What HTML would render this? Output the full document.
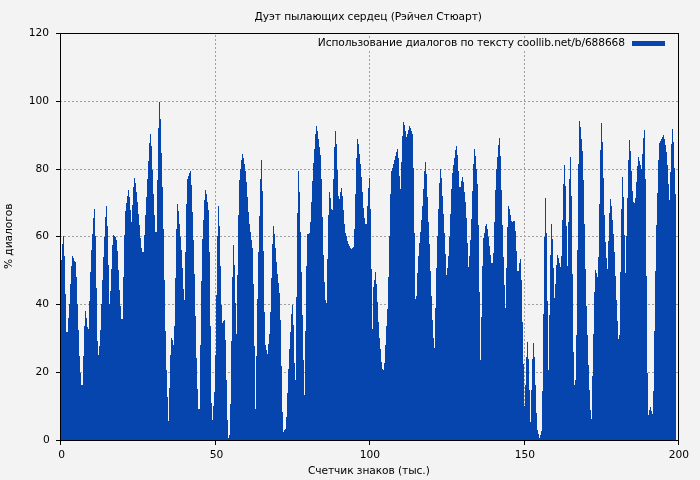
<!DOCTYPE html>
<html lang="ru"><head><meta charset="utf-8"><title>Дуэт пылающих сердец (Рэйчел Стюарт)</title>
<style>html,body{margin:0;padding:0;background:#f3f3f3;overflow:hidden}svg{display:block}text{font-family:"DejaVu Sans","Liberation Sans",sans-serif;font-size:10.67px;fill:#000}</style></head><body>
<svg width="700" height="480" viewBox="0 0 700 480">
<rect width="700" height="480" fill="#f3f3f3"/>
<g stroke="#a0a0a0" stroke-width="1" stroke-dasharray="2 2" shape-rendering="crispEdges" fill="none">
<path d="M60 372.5 H678"/>
<path d="M60 304.5 H678"/>
<path d="M60 236.5 H678"/>
<path d="M60 169.5 H678"/>
<path d="M60 101.5 H678"/>
<path d="M215.5 441 V34"/>
<path d="M369.5 441 V51"/>
<path d="M369.5 38 V36"/>
<path d="M524.5 441 V51"/>
<path d="M524.5 38 V36"/>
</g>
<path fill="#0645ad" shape-rendering="crispEdges" d="M61 440H62V260H61ZM62 440H63V244H62ZM63 440H64V236H63ZM64 440H65V256H64ZM65 440H66V294H65ZM66 440H68V332H66ZM68 440H69V318H68ZM69 440H70V304H69ZM70 440H71V284H70ZM71 440H72V266H71ZM72 440H73V256H72ZM73 440H74V258H73ZM74 440H75V261H74ZM75 440H76V262H75ZM76 440H77V277H76ZM77 440H78V304H77ZM78 440H79V330H78ZM79 440H80V356H79ZM80 440H81V373H80ZM81 440H83V385H81ZM83 440H84V356H83ZM84 440H85V326H84ZM85 440H86V311H85ZM86 440H87V318H86ZM87 440H88V327H87ZM88 440H89V329H88ZM89 440H90V301H89ZM90 440H91V272H90ZM91 440H92V250H91ZM92 440H93V234H92ZM93 440H94V218H93ZM94 440H95V209H94ZM95 440H96V236H95ZM96 440H97V288H96ZM97 440H98V341H97ZM98 440H99V355H98ZM99 440H100V346H99ZM100 440H101V330H100ZM101 440H102V304H101ZM102 440H103V280H102ZM103 440H104V257H103ZM104 440H105V237H104ZM105 440H106V217H105ZM106 440H107V206H106ZM107 440H108V226H107ZM108 440H109V265H108ZM109 440H110V304H109ZM110 440H111V291H110ZM111 440H112V269H111ZM112 440H113V245H112ZM113 440H114V235H113ZM114 440H115V236H114ZM115 440H116V237H115ZM116 440H117V240H116ZM117 440H118V251H117ZM118 440H119V270H118ZM119 440H120V290H119ZM120 440H121V306H120ZM121 440H123V319H121ZM123 440H124V277H123ZM124 440H125V235H124ZM125 440H126V211H125ZM126 440H127V203H126ZM127 440H128V196H127ZM128 440H129V190H128ZM129 440H130V197H129ZM130 440H131V210H130ZM131 440H132V222H131ZM132 440H133V205H132ZM133 440H134V187H133ZM134 440H135V178H134ZM135 440H136V183H135ZM136 440H137V192H136ZM137 440H138V202H137ZM138 440H139V214H138ZM139 440H140V225H139ZM140 440H141V238H140ZM141 440H142V248H141ZM142 440H144V252H142ZM144 440H145V235H144ZM145 440H146V215H145ZM146 440H147V197H146ZM147 440H148V179H147ZM148 440H149V161H148ZM149 440H150V143H149ZM150 440H151V134H150ZM151 440H152V146H151ZM152 440H153V170H152ZM153 440H154V194H153ZM154 440H155V215H154ZM155 440H157V232H155ZM157 440H158V180H157ZM158 440H159V128H158ZM159 440H160V102H159ZM160 440H161V119H160ZM161 440H162V153H161ZM162 440H163V187H162ZM163 440H164V229H163ZM164 440H165V280H164ZM165 440H166V331H165ZM166 440H167V370H166ZM167 440H168V397H167ZM168 440H169V421H168ZM169 440H170V388H169ZM170 440H171V355H170ZM171 440H172V338H171ZM172 440H173V340H172ZM173 440H174V345H173ZM174 440H175V326H174ZM175 440H176V278H175ZM176 440H177V229H176ZM177 440H178V204H177ZM178 440H179V211H178ZM179 440H180V224H179ZM180 440H181V237H180ZM181 440H182V250H181ZM182 440H183V268H182ZM183 440H184V289H183ZM184 440H185V300H184ZM185 440H186V252H185ZM186 440H187V204H186ZM187 440H188V179H187ZM188 440H189V176H188ZM189 440H190V173H189ZM190 440H191V171H190ZM191 440H192V185H191ZM192 440H193V212H192ZM193 440H194V240H193ZM194 440H195V274H194ZM195 440H196V316H195ZM196 440H197V358H196ZM197 440H198V389H197ZM198 440H200V409H198ZM200 440H201V345H200ZM201 440H202V281H201ZM202 440H203V239H202ZM203 440H204V220H203ZM204 440H205V200H204ZM205 440H206V190H205ZM206 440H207V194H206ZM207 440H208V202H207ZM208 440H209V210H208ZM209 440H210V252H209ZM210 440H211V326H210ZM211 440H212V403H211ZM212 440H213V420H212ZM213 440H214V406H213ZM214 440H215V392H214ZM215 440H216V355H215ZM216 440H217V295H216ZM217 440H218V236H217ZM218 440H219V206H218ZM219 440H220V226H219ZM220 440H221V266H220ZM221 440H222V305H221ZM222 440H223V323H222ZM223 440H224V321H223ZM224 440H225V320H224ZM225 440H226V340H225ZM226 440H227V380H226ZM227 440H228V420H227ZM228 440H229V438H228ZM229 440H230V435H229ZM230 440H231V404H230ZM231 440H232V341H231ZM232 440H233V277H232ZM233 440H234V245H233ZM234 440H235V265H234ZM235 440H236V303H235ZM236 440H237V334H236ZM237 440H238V275H237ZM238 440H239V215H238ZM239 440H240V180H239ZM240 440H241V169H240ZM241 440H242V160H241ZM242 440H243V154H242ZM243 440H244V158H243ZM244 440H245V164H244ZM245 440H246V171H245ZM246 440H247V182H246ZM247 440H248V197H247ZM248 440H249V212H248ZM249 440H250V224H249ZM250 440H251V232H250ZM251 440H252V240H251ZM252 440H253V248H252ZM253 440H254V284H253ZM254 440H255V346H254ZM255 440H256V409H255ZM256 440H257V356H256ZM257 440H258V299H257ZM258 440H259V252H258ZM259 440H260V216H259ZM260 440H261V179H260ZM261 440H262V160H261ZM262 440H263V191H262ZM263 440H264V251H263ZM264 440H265V312H264ZM265 440H266V345H265ZM266 440H267V350H266ZM267 440H268V354H267ZM268 440H269V344H268ZM269 440H270V334H269ZM270 440H271V312H270ZM271 440H272V278H271ZM272 440H273V244H272ZM273 440H274V226H273ZM274 440H275V234H274ZM275 440H276V248H275ZM276 440H277V262H276ZM277 440H278V274H277ZM278 440H279V283H278ZM279 440H280V293H279ZM280 440H281V320H280ZM281 440H282V366H281ZM282 440H283V412H282ZM283 440H284V432H283ZM284 440H285V430H284ZM285 440H286V429H285ZM286 440H287V417H286ZM287 440H288V393H287ZM288 440H289V369H288ZM289 440H290V349H289ZM290 440H291V332H290ZM291 440H292V314H291ZM292 440H293V305H292ZM293 440H294V325H293ZM294 440H295V363H294ZM295 440H296V380H295ZM296 440H297V297H296ZM297 440H298V213H297ZM298 440H299V171H298ZM299 440H300V192H299ZM300 440H301V232H300ZM301 440H302V272H301ZM302 440H303V315H302ZM303 440H304V360H303ZM304 440H305V395H304ZM305 440H306V331H305ZM306 440H307V266H306ZM307 440H309V234H307ZM309 440H310V233H309ZM310 440H311V222H310ZM311 440H312V202H311ZM312 440H313V181H312ZM313 440H314V163H313ZM314 440H315V149H314ZM315 440H316V134H315ZM316 440H317V126H316ZM317 440H318V131H317ZM318 440H319V139H318ZM319 440H320V147H319ZM320 440H321V155H320ZM321 440H322V179H321ZM322 440H323V217H322ZM323 440H324V255H323ZM324 440H325V282H324ZM325 440H326V300H325ZM326 440H327V303H326ZM327 440H328V259H327ZM328 440H329V215H328ZM329 440H330V192H329ZM330 440H331V198H330ZM331 440H332V209H331ZM332 440H333V210H332ZM333 440H334V179H333ZM334 440H335V147H334ZM335 440H336V131H335ZM336 440H337V144H336ZM337 440H338V170H337ZM338 440H339V196H338ZM339 440H340V199H339ZM340 440H341V192H340ZM341 440H342V188H341ZM342 440H343V196H342ZM343 440H344V210H343ZM344 440H345V224H344ZM345 440H346V233H345ZM346 440H347V236H346ZM347 440H348V241H347ZM348 440H349V244H348ZM349 440H350V246H349ZM350 440H351V248H350ZM351 440H352V249H351ZM352 440H353V248H352ZM353 440H354V247H353ZM354 440H355V229H354ZM355 440H356V194H355ZM356 440H357V158H356ZM357 440H358V139H357ZM358 440H359V144H358ZM359 440H360V154H359ZM360 440H361V164H360ZM361 440H362V177H361ZM362 440H363V192H362ZM363 440H364V208H363ZM364 440H365V218H364ZM365 440H367V224H365ZM367 440H368V206H367ZM368 440H369V188H368ZM369 440H370V178H369ZM370 440H371V209H370ZM371 440H372V269H371ZM372 440H373V329H372ZM373 440H374V287H373ZM374 440H375V280H374ZM375 440H376V272H375ZM376 440H377V284H376ZM377 440H378V302H377ZM378 440H379V322H378ZM379 440H380V338H379ZM380 440H381V349H380ZM381 440H382V362H381ZM382 440H383V369H382ZM383 440H384V370H383ZM384 440H385V363H384ZM385 440H386V345H385ZM386 440H387V326H386ZM387 440H388V309H387ZM388 440H389V277H388ZM389 440H390V236H389ZM390 440H391V194H390ZM391 440H392V171H391ZM392 440H393V168H392ZM393 440H394V164H393ZM394 440H395V160H394ZM395 440H396V156H395ZM396 440H397V152H396ZM397 440H398V149H397ZM398 440H399V158H398ZM399 440H400V176H399ZM400 440H401V189H400ZM401 440H402V162H401ZM402 440H403V136H402ZM403 440H404V122H403ZM404 440H405V125H404ZM405 440H406V131H405ZM406 440H407V137H406ZM407 440H408V134H407ZM408 440H409V130H408ZM409 440H410V126H409ZM410 440H411V128H410ZM411 440H412V131H411ZM412 440H413V134H412ZM413 440H414V168H413ZM414 440H415V233H414ZM415 440H416V299H415ZM416 440H417V296H416ZM417 440H418V273H417ZM418 440H419V256H418ZM419 440H420V243H419ZM420 440H421V232H420ZM421 440H422V220H421ZM422 440H423V206H422ZM423 440H424V189H423ZM424 440H425V171H424ZM425 440H426V162H425ZM426 440H427V174H426ZM427 440H428V197H427ZM428 440H429V222H428ZM429 440H430V244H429ZM430 440H431V271H430ZM431 440H432V296H431ZM432 440H433V320H432ZM433 440H434V338H433ZM434 440H435V348H434ZM435 440H436V308H435ZM436 440H437V268H436ZM437 440H438V236H437ZM438 440H439V209H438ZM439 440H440V183H439ZM440 440H441V169H440ZM441 440H442V178H441ZM442 440H443V196H442ZM443 440H444V214H443ZM444 440H445V233H444ZM445 440H446V254H445ZM446 440H447V275H446ZM447 440H448V268H447ZM448 440H449V256H448ZM449 440H450V237H449ZM450 440H451V214H450ZM451 440H452V189H451ZM452 440H453V173H452ZM453 440H454V165H453ZM454 440H455V158H454ZM455 440H456V150H455ZM456 440H457V146H456ZM457 440H458V155H457ZM458 440H459V171H458ZM459 440H461V187H459ZM461 440H462V181H461ZM462 440H463V177H462ZM463 440H464V182H463ZM464 440H465V192H464ZM465 440H466V202H465ZM466 440H467V218H466ZM467 440H468V243H467ZM468 440H469V267H468ZM469 440H470V256H469ZM470 440H471V240H470ZM471 440H472V219H471ZM472 440H473V191H472ZM473 440H474V164H473ZM474 440H475V149H474ZM475 440H476V156H475ZM476 440H477V169H476ZM477 440H478V184H477ZM478 440H479V225H478ZM479 440H480V292H479ZM480 440H481V360H480ZM481 440H482V317H481ZM482 440H483V266H482ZM483 440H484V238H483ZM484 440H485V233H484ZM485 440H486V226H485ZM486 440H487V224H486ZM487 440H488V229H487ZM488 440H489V237H488ZM489 440H490V246H489ZM490 440H491V255H490ZM491 440H493V263H491ZM493 440H494V253H493ZM494 440H495V222H494ZM495 440H496V190H495ZM496 440H497V169H496ZM497 440H498V157H497ZM498 440H499V145H498ZM499 440H500V138H499ZM500 440H501V156H500ZM501 440H502V190H501ZM502 440H503V225H502ZM503 440H504V257H503ZM504 440H505V285H504ZM505 440H506V308H505ZM506 440H507V268H506ZM507 440H508V227H507ZM508 440H509V206H508ZM509 440H510V209H509ZM510 440H511V215H510ZM511 440H512V221H511ZM512 440H513V222H512ZM513 440H515V221H513ZM515 440H516V231H515ZM516 440H517V251H516ZM517 440H519V271H517ZM519 440H520V263H519ZM520 440H521V259H520ZM521 440H522V280H521ZM522 440H523V322H522ZM523 440H524V364H523ZM524 440H525V406H524ZM525 440H526V385H525ZM526 440H527V357H526ZM527 440H528V342H527ZM528 440H529V359H528ZM529 440H530V390H529ZM530 440H531V422H530ZM531 440H532V390H531ZM532 440H533V359H532ZM533 440H534V343H533ZM534 440H535V357H534ZM535 440H536V385H535ZM536 440H537V413H536ZM537 440H538V430H537ZM538 440H539V434H538ZM539 440H540V438H539ZM540 440H541V435H540ZM541 440H542V431H541ZM542 440H543V391H542ZM543 440H544V314H543ZM544 440H545V237H544ZM545 440H546V198H545ZM546 440H547V233H546ZM547 440H548V301H547ZM548 440H549V370H548ZM549 440H550V315H549ZM550 440H551V255H550ZM551 440H552V224H551ZM552 440H553V239H552ZM553 440H554V268H553ZM554 440H555V298H554ZM555 440H556V284H555ZM556 440H557V265H556ZM557 440H558V255H557ZM558 440H559V258H558ZM559 440H560V263H559ZM560 440H561V267H560ZM561 440H562V256H561ZM562 440H563V220H562ZM563 440H564V184H563ZM564 440H565V165H564ZM565 440H566V186H565ZM566 440H567V226H566ZM567 440H568V266H567ZM568 440H569V222H568ZM569 440H570V179H569ZM570 440H571V157H570ZM571 440H572V196H571ZM572 440H573V274H572ZM573 440H574V352H573ZM574 440H575V385H574ZM575 440H576V380H575ZM576 440H577V335H576ZM577 440H578V250H577ZM578 440H579V164H578ZM579 440H580V121H579ZM580 440H581V127H580ZM581 440H582V139H581ZM582 440H583V151H582ZM583 440H584V180H583ZM584 440H585V224H584ZM585 440H586V269H585ZM586 440H587V306H586ZM587 440H588V335H587ZM588 440H589V365H588ZM589 440H590V390H589ZM590 440H591V410H590ZM591 440H592V419H591ZM592 440H593V376H592ZM593 440H594V334H593ZM594 440H595V292H594ZM595 440H596V270H595ZM596 440H597V273H596ZM597 440H598V277H597ZM598 440H599V257H598ZM599 440H600V204H599ZM600 440H601V150H600ZM601 440H602V123H601ZM602 440H603V142H602ZM603 440H604V178H603ZM604 440H605V215H604ZM605 440H606V242H605ZM606 440H607V258H606ZM607 440H608V269H607ZM608 440H609V241H608ZM609 440H610V213H609ZM610 440H611V199H610ZM611 440H612V206H611ZM612 440H613V220H612ZM613 440H614V234H613ZM614 440H615V252H614ZM615 440H616V276H615ZM616 440H617V300H616ZM617 440H618V321H617ZM618 440H619V339H618ZM619 440H620V335H619ZM620 440H621V272H620ZM621 440H622V209H621ZM622 440H623V177H622ZM623 440H624V197H623ZM624 440H625V235H624ZM625 440H626V273H625ZM626 440H627V236H626ZM627 440H628V198H627ZM628 440H629V160H628ZM629 440H630V140H629ZM630 440H631V151H630ZM631 440H632V171H631ZM632 440H633V191H632ZM633 440H634V202H633ZM634 440H635V203H634ZM635 440H636V198H635ZM636 440H637V182H636ZM637 440H638V166H637ZM638 440H639V157H638ZM639 440H640V161H639ZM640 440H641V165H640ZM641 440H642V169H641ZM642 440H643V154H642ZM643 440H644V138H643ZM644 440H645V130H644ZM645 440H646V179H645ZM646 440H647V276H646ZM647 440H648V373H647ZM648 440H649V415H648ZM649 440H650V410H649ZM650 440H651V407H650ZM651 440H652V411H651ZM652 440H653V414H652ZM653 440H654V391H653ZM654 440H655V331H654ZM655 440H656V271H655ZM656 440H657V225H656ZM657 440H658V193H657ZM658 440H659V160H658ZM659 440H660V143H659ZM660 440H661V141H660ZM661 440H662V139H661ZM662 440H663V137H662ZM663 440H664V135H663ZM664 440H665V139H664ZM665 440H666V145H665ZM666 440H667V152H666ZM667 440H668V165H667ZM668 440H669V184H668ZM669 440H670V200H669ZM670 440H671V172H670ZM671 440H672V144H671ZM672 440H673V129H672ZM673 440H674V142H673ZM674 440H675V168H674ZM675 440H676V194H675Z"/>
<g stroke="#000" stroke-width="1" shape-rendering="crispEdges" fill="none">
<rect x="60.5" y="33.5" width="618" height="407"/>
<path d="M56 440.5 H60"/>
<path d="M56 372.5 H60"/>
<path d="M56 304.5 H60"/>
<path d="M56 236.5 H60"/>
<path d="M56 169.5 H60"/>
<path d="M56 101.5 H60"/>
<path d="M56 33.5 H60"/>
<path d="M60.5 441 V445"/>
<path d="M215.5 441 V445"/>
<path d="M369.5 441 V445"/>
<path d="M524.5 441 V445"/>
<path d="M678.5 441 V445"/>
</g>
<text id="y0" x="43.11" y="443.00">0</text>
<text id="y20" x="35.45" y="375.00">20</text>
<text id="y40" x="35.45" y="307.00">40</text>
<text id="y60" x="35.45" y="239.00">60</text>
<text id="y80" x="35.45" y="172.00">80</text>
<text id="y100" x="28.68" y="104.00">100</text>
<text id="y120" x="28.68" y="36.00">120</text>
<text id="x0" x="58.25" y="458.00">0</text>
<text id="x50" x="209.67" y="458.00">50</text>
<text id="x100" x="359.73" y="458.00">100</text>
<text id="x150" x="514.73" y="458.00">150</text>
<text id="x200" x="668.79" y="458.00">200</text>
<text id="title" x="254.60" y="20.00" textLength="227.38" lengthAdjust="spacing">Дуэт пылающих сердец (Рэйчел Стюарт)</text>
<text id="xlabel" x="307.93" y="474.00" textLength="121.87" lengthAdjust="spacing">Счетчик знаков (тыс.)</text>
<text id="ylabel" transform="translate(12.00 269.00) rotate(-90)" textLength="65.50" lengthAdjust="spacing">% диалогов</text>
<text id="legend" x="317.77" y="46.00" textLength="307.24" lengthAdjust="spacing">Использование диалогов по тексту coollib.net/b/688668</text>
<rect x="632" y="41" width="33" height="5" fill="#0645ad" shape-rendering="crispEdges"/>
</svg></body></html>
